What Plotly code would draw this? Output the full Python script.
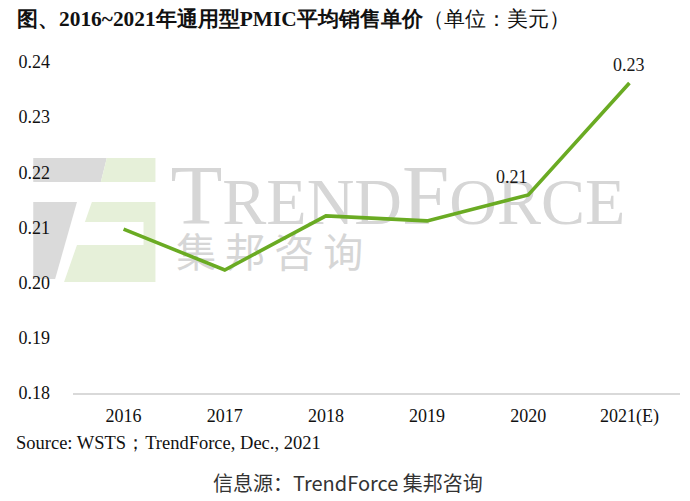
import plotly.graph_objects as go

# ---- data ----
years = ["2016", "2017", "2018", "2019", "2020", "2021(E)"]
asp = [0.2097, 0.2023, 0.2121, 0.2112, 0.2159, 0.2362]
point_labels = ["", "", "", "", "0.21", "0.23"]
y_ticks = [0.18, 0.19, 0.20, 0.21, 0.22, 0.23, 0.24]

# page body has an 8px margin; work in reference-picture pixels
OFF = 8
W, H = 690 - OFF, 501 - OFF
PLOT_L, PLOT_R, PLOT_T, PLOT_B = 69, 680, 62, 393   # reference pixels
L = PLOT_L - OFF
T = PLOT_T - OFF
R = W - (PLOT_R - OFF)
B = H - (PLOT_B - OFF)
PW, PH = W - L - R, H - T - B


def px(x):
    return (x - OFF - L) / PW


def py(y):
    return (H - B - (y - OFF)) / PH


def path(pts):
    return "M " + " L ".join(f"{px(a):.5f},{py(b):.5f}" for a, b in pts) + " Z"


serif = "Liberation Serif"
sans = "Noto Sans CJK SC"

fig = go.Figure()
fig.add_trace(go.Scatter(
    x=years, y=asp, mode="lines",
    line=dict(color="#6aab23", width=3.6),
    hoverinfo="skip",
))

gray = "#dadada"
lgreen = "#e6f0d9"
wm = "#d6d6d6"
shapes = [
    dict(type="path", path=path([(29, 158), (103, 158), (97, 182), (29, 182)]), fillcolor=gray),
    dict(type="path", path=path([(103, 158), (152, 158), (152, 182), (97, 182)]), fillcolor=lgreen),
    dict(type="path", path=path([(29, 202), (73, 202), (51, 279), (29, 279)]), fillcolor=gray),
    dict(type="path", path=path([(88, 202), (152, 202), (152, 282), (60, 282), (73, 245),
                                 (140, 245), (140, 222), (81, 222)]), fillcolor=lgreen),
    # watermark words (as shape labels so that they sit below the line)
    dict(type="rect", x0=px(164), x1=px(630), y0=py(206), y1=py(166), fillcolor="rgba(0,0,0,0)",
         label=dict(text="T<span style='font-size:66px'>REND</span>F<span style='font-size:66px'>ORCE</span>",
                    textposition="middle left", padding=0,
                    font=dict(family=serif, size=85, color=wm))),
    dict(type="rect", x0=px(170), x1=px(380), y0=py(271), y1=py(241), fillcolor="rgba(0,0,0,0)",
         label=dict(text="集 邦 咨 询", textposition="middle left", padding=0,
                    font=dict(family=sans, size=40, color=wm))),
]
for s in shapes:
    s.update(xref="paper", yref="paper", line=dict(width=0), layer="below")

annotations = [
    dict(text="<b>图、2016~2021年通用型PMIC平均销售单价</b>（单位：美元）",
         x=px(11), y=py(19), xanchor="left", yanchor="middle", xref="paper", yref="paper",
         font=dict(family=serif, size=21.4, color="#111111")),
    dict(text="Source: WSTS；TrendForce, Dec., 2021",
         x=px(10), y=py(443), xanchor="left", yanchor="middle", xref="paper", yref="paper",
         font=dict(family=serif, size=18.5, color="#111111")),
    dict(text="信息源：TrendForce 集邦咨询",
         x=px(346), y=py(482), xanchor="center", yanchor="middle", xref="paper", yref="paper",
         font=dict(family=sans, size=20, color="#333333")),
]
shift_x = [0, 0, 0, 0, -16, 0]
for i, lab in enumerate(point_labels):
    if lab:
        annotations.append(dict(text=lab, x=i, y=asp[i], xref="x", yref="y",
                                yshift=18, xshift=shift_x[i],
                                font=dict(family=serif, size=18, color="#1a1a1a")))
for a in annotations:
    a.update(showarrow=False)

fig.update_layout(
    width=W, height=H,
    margin=dict(l=L, r=R, t=T, b=B),
    paper_bgcolor="white", plot_bgcolor="rgba(0,0,0,0)",
    showlegend=False,
    shapes=shapes, annotations=annotations,
    xaxis=dict(type="category", showgrid=False, zeroline=False, showline=True, linecolor="#d9d9d9",
               linewidth=1.5, ticks="", ticklabelstandoff=6,
               tickfont=dict(family=serif, size=18, color="#111111"),
               range=[-0.5, 5.5]),
    yaxis=dict(range=[0.18, 0.24], tickvals=y_ticks, tickformat=".2f",
               showgrid=False, zeroline=False, showline=False, ticks="",
               ticklabelstandoff=22,
               tickfont=dict(family=serif, size=18, color="#111111")),
)

fig.write_html("out.html")
